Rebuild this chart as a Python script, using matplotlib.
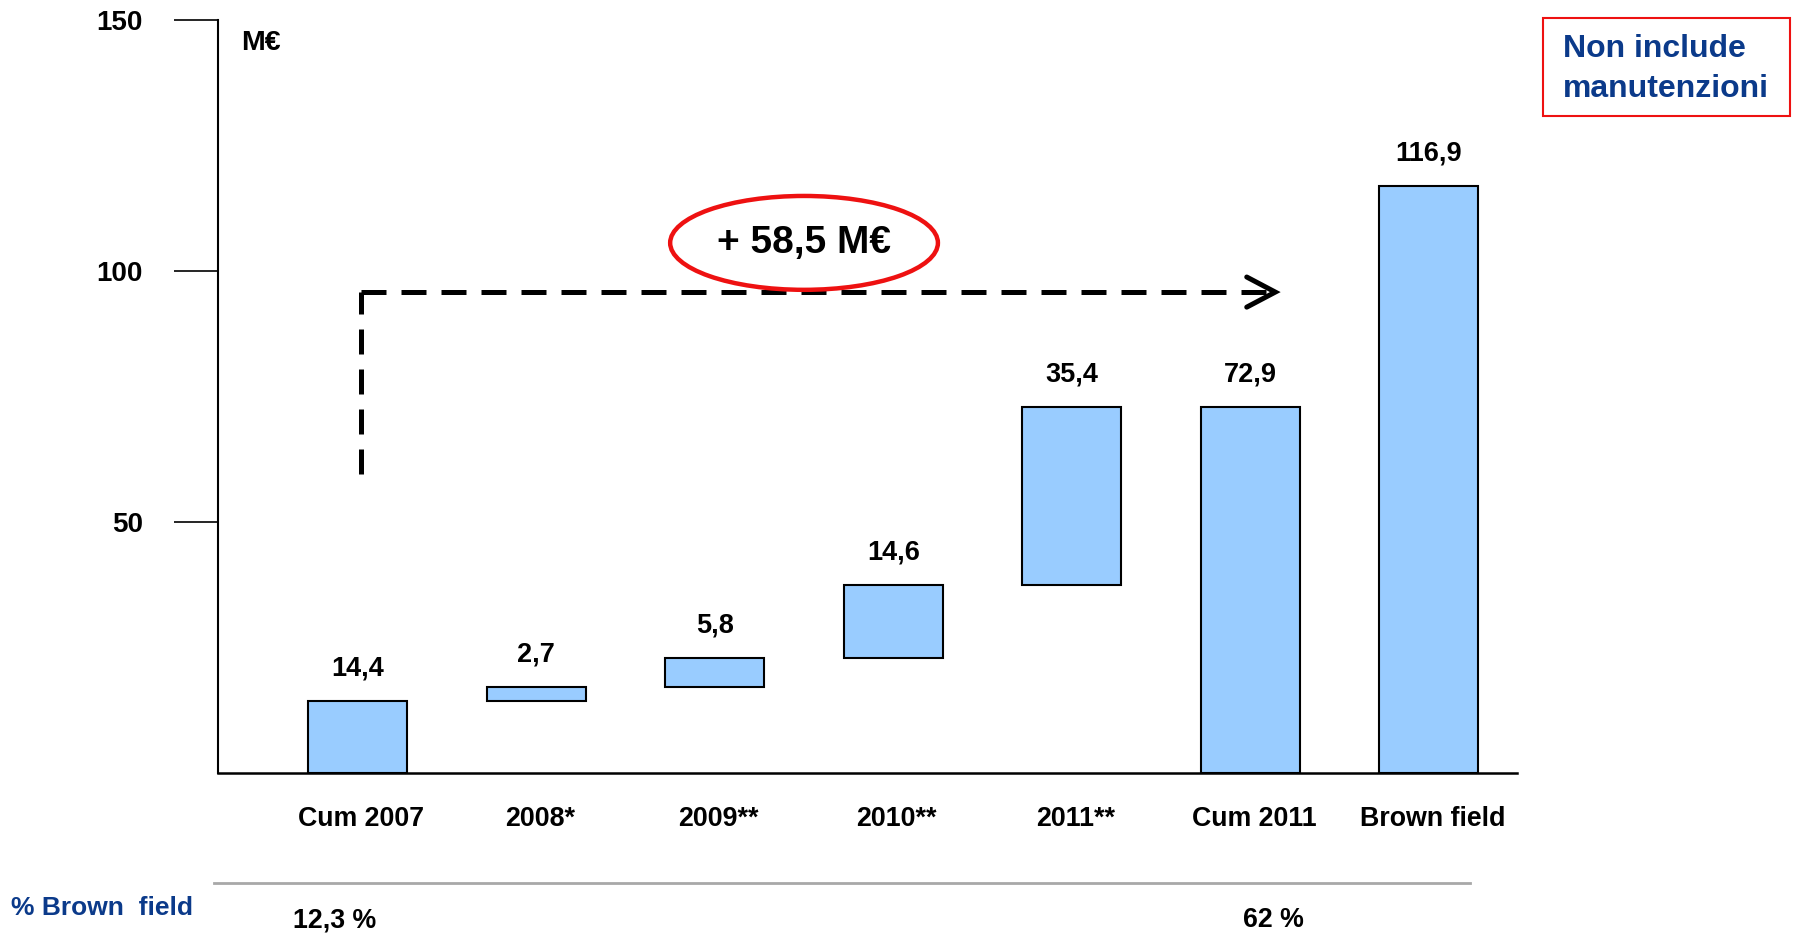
import matplotlib
matplotlib.use("Agg")
import matplotlib.pyplot as plt
from matplotlib.patches import Ellipse, Rectangle
from matplotlib.lines import Line2D
import matplotlib.transforms as mtransforms
import numpy as np

plt.rcParams['font.family'] = ['Liberation Sans', 'DejaVu Sans']

# ---- data ----
categories = ["Cum 2007", "2008*", "2009**", "2010**", "2011**", "Cum 2011", "Brown field"]
increments = [14.4, 2.7, 5.8, 14.6, 35.4]          # waterfall steps
cum_2011 = 72.9
brown_field = 116.9
value_labels = ["14,4", "2,7", "5,8", "14,6", "35,4", "72,9", "116,9"]
pct_brown_labels = {0: "12,3 %", 5: "62 %"}
delta_label = "+ 58,5 M€"
yticks = [50, 100, 150]

# ---- derived bar geometry ----
bottoms = list(np.concatenate([[0], np.cumsum(increments)[:-1]])) + [0, 0]
heights = increments + [cum_2011, brown_field]

W, H = 1798, 948
fig = plt.figure(figsize=(W / 100, H / 100), dpi=100)
ax = fig.add_axes([218 / W, 1 - 773 / H, (1517 - 218) / W, (773 - 20) / H])

x = np.arange(len(categories))
ax.bar(x - 0.02, heights, bottom=bottoms, width=0.555, color="#99CCFF",
       edgecolor="black", linewidth=1.5, zorder=3)

for xi, b, h, lab in zip(x - 0.02, bottoms, heights, value_labels):
    ax.annotate(lab, (xi, b + h), xytext=(0, 14), textcoords="offset points",
                ha="center", va="bottom", fontsize=19.5, fontweight="bold")

ax.set_xlim(-0.803, 6.474)
ax.set_ylim(0, 150)
ax.spines["top"].set_visible(False)
ax.spines["right"].set_visible(False)
ax.spines["left"].set_linewidth(1.5)
ax.spines["bottom"].set_linewidth(1.8)

ax.set_yticks(yticks)
ax.set_yticklabels([str(v) for v in yticks], fontsize=20, fontweight="bold")
ax.tick_params(axis="y", length=32, width=1.2, pad=22)
ax.set_xticks(x)
ax.set_xticklabels(categories, fontsize=19.3, fontweight="bold")
ax.tick_params(axis="x", length=0, pad=24)

# unit label
ax.text(241 / W, 1 - 43 / H, "M€", transform=fig.transFigure, fontsize=20.5,
        fontweight="bold", ha="left", va="center")

# dashed bracket arrow
ax.plot([0, 0], [59.6, 95.8], color="black", lw=3.6, linestyle=(0, (5, 3)),
        zorder=4, dash_capstyle="butt")
ax.plot([0, 5.12], [95.8, 95.8], color="black", lw=3.6, linestyle=(0, (5, 3)),
        zorder=4, dash_capstyle="butt")
ax.plot([5.12 - 0.16, 5.12, 5.12 - 0.16], [95.8 + 3.0, 95.8, 95.8 - 3.0],
        color="black", lw=3.6, solid_capstyle="round", solid_joinstyle="miter", zorder=4)

# ellipse with delta
ax.add_patch(Ellipse((2.48, 105.6), 1.50, 18.7, fill=False, edgecolor="#EE1111",
                     lw=3.2, zorder=5, clip_on=False))
ax.text(2.48, 105.6, delta_label, ha="center", va="center", fontsize=28,
        fontweight="bold", zorder=6)

# note box
fig.add_artist(Rectangle((1543 / W, 1 - 116 / H), (1790 - 1543) / W, (116 - 18) / H,
                         transform=fig.transFigure, fill=False, edgecolor="#EE1111", lw=1.5))
fig.text(1563 / W, 1 - 49 / H, "Non include", color="#0B3A8A", fontsize=23,
         fontweight="bold", ha="left", va="center")
fig.text(1563 / W, 1 - 89 / H, "manutenzioni", color="#0B3A8A", fontsize=23,
         fontweight="bold", ha="left", va="center")

# bottom table
fig.add_artist(Line2D([214 / W, 1470 / W], [1 - 883 / H, 1 - 883 / H],
                      transform=fig.transFigure, color="#A8A8A8", lw=2))
fig.text(11 / W, 1 - 908 / H, "% Brown  field", color="#0B3A8A", fontsize=19,
         fontweight="bold", ha="left", va="center")
trans = mtransforms.blended_transform_factory(ax.transData, fig.transFigure)
nudge = {0: -0.15, 5: 0.11}
for idx, lab in pct_brown_labels.items():
    ax.text(idx + nudge[idx], 1 - 920 / H, lab, transform=trans, ha="center",
            va="center", fontsize=19.3, fontweight="bold")

fig.savefig("out.png", dpi=100)
